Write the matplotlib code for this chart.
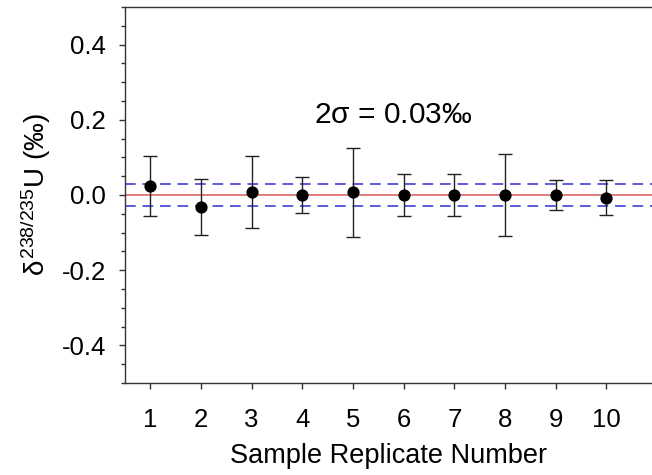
import matplotlib
matplotlib.use("Agg")
import matplotlib.pyplot as plt
from matplotlib.ticker import MultipleLocator

plt.rcParams['font.family'] = ['Liberation Sans', 'DejaVu Sans']
plt.rcParams['mathtext.fontset'] = 'custom'
plt.rcParams['mathtext.rm'] = 'Liberation Sans'
plt.rcParams['mathtext.it'] = 'Liberation Sans'
plt.rcParams['mathtext.sf'] = 'Liberation Sans'

replicates = [1, 2, 3, 4, 5, 6, 7, 8, 9, 10]
delta_u = [0.025, -0.032, 0.008, 0.000, 0.007, 0.000, 0.000, 0.000, 0.000, -0.007]
errors = [0.080, 0.074, 0.097, 0.047, 0.119, 0.057, 0.056, 0.108, 0.040, 0.046]
two_sigma = 0.028
ytick_vals = [-0.4, -0.2, 0.0, 0.2, 0.4]
ytick_labels = ['-0.4', '-0.2', '0.0', '0.2', '0.4']

fig = plt.figure(figsize=(6.52, 4.75), dpi=100)
ax = fig.add_axes([125/652, 1-383/475, 1-125/652, (383-7)/475])

ax.axhline(0, color='#d85a5a', lw=1.1, zorder=1)
ax.axhline(two_sigma, color='#5b5be0', lw=1.4, ls=(0, (5.5, 3.5)), zorder=1)
ax.axhline(-two_sigma, color='#5b5be0', lw=1.4, ls=(0, (5.5, 3.5)), zorder=1)

ax.errorbar(replicates, delta_u, yerr=errors, fmt='o', color='black',
            markersize=7.8, ecolor='#222222', elinewidth=1.0, capsize=5,
            capthick=1.0, zorder=3)

ax.set_xlim(0.5, 10.9)
ax.set_ylim(-0.5, 0.5)
ax.set_xticks(replicates)
ax.set_xticklabels([str(r) for r in replicates])
ax.set_yticks(ytick_vals)
ax.set_yticklabels(ytick_labels)
ax.yaxis.set_minor_locator(MultipleLocator(0.05))

ax.tick_params(axis='both', which='major', direction='out', length=4.3, width=1,
               labelsize=18.5, color='#333333')
ax.tick_params(axis='y', which='major', pad=9.4)
ax.tick_params(axis='x', which='major', pad=13.5)
ax.tick_params(axis='y', which='minor', direction='out', length=3, width=1,
               color='#333333')
for s in ['left', 'top', 'bottom']:
    ax.spines[s].set_color('#333333')
    ax.spines[s].set_linewidth(1.0)
ax.spines['right'].set_visible(False)

ax.set_xlabel('Sample Replicate Number', fontsize=19.5, labelpad=8)
ax.set_ylabel(r'$\delta^{238/235}$U (‰)', fontsize=20, labelpad=6)

ax.text(5.79, 0.213, r'2$\sigma$ = 0.03‰', fontsize=21.5, ha='center', va='center')

fig.savefig('out.png', dpi=100)
